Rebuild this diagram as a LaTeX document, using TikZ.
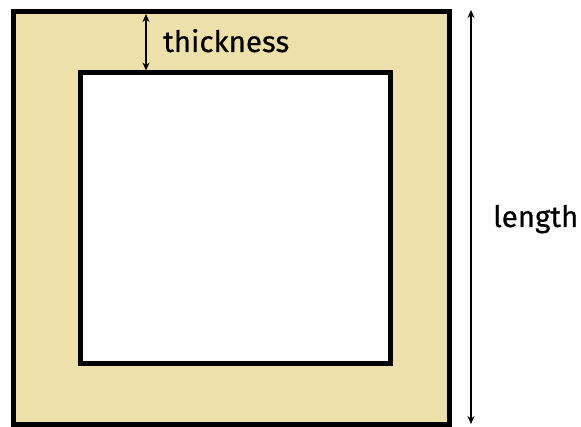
\documentclass[tikz,border=0pt]{standalone}
\usepackage{fontspec}
\setmainfont{Fira Sans}
\newfontfamily\lblfont[FakeBold=0.6]{Fira Sans}
\usetikzlibrary{arrows.meta}
\definecolor{wall}{RGB}{237,224,170}
\tikzset{
  box/.style={draw=black, line width=5pt, inner sep=0pt, outer sep=0pt},
  dim/.style={line width=1.6pt, {Stealth[length=8pt,width=7pt]}-{Stealth[length=8pt,width=7pt]}},
  lbl/.style={font=\lblfont\fontsize{29.5}{32}\selectfont, inner sep=0pt, anchor=base west}
}
\begin{document}
\begin{tikzpicture}[x=1pt,y=-1pt]
\useasboundingbox (0,0) rectangle (581,427);
\node[box, fill=wall, minimum width=436pt, minimum height=413pt] (outer) at (231.5,218) {};
\node[box, fill=white, minimum width=309.5pt, minimum height=291pt] (inner) at (235.25,218.5) {};
\coordinate (t1) at (146,14);
\coordinate (t2) at (146,70.5);
\draw[dim] (t1) -- (t2);
\coordinate (l1) at (471,10);
\coordinate (l2) at (471,424);
\draw[dim] (l1) -- (l2);
\node[lbl] (thick) at (163,52) {thickness};
\node[lbl] (len) at (493,227) {length};
\end{tikzpicture}
\end{document}
